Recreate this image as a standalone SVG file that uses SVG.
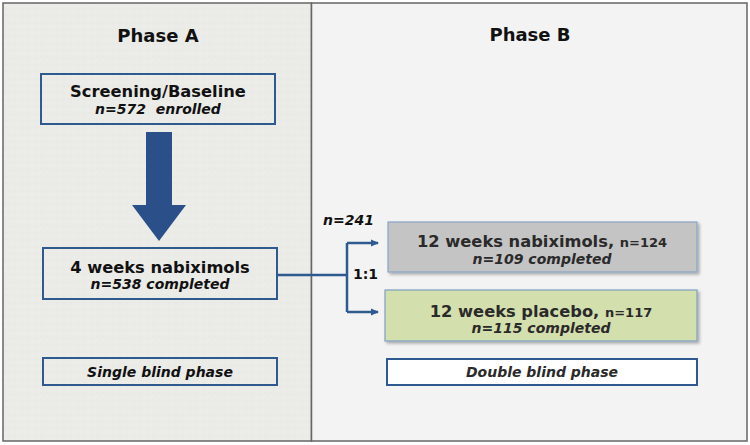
<svg xmlns="http://www.w3.org/2000/svg" width="750" height="445" viewBox="0 0 750 445">
<style>
.t{font-family:"DejaVu Sans","Liberation Sans",sans-serif;font-weight:bold;fill:#111;text-anchor:middle}
.h{font-size:18px}
.m{font-size:16.3px}
.i{font-size:14px;font-style:italic}
.s{font-size:13px}
.d{fill:#2a2a2a}
.box{fill:none;stroke:#2f5a8f;stroke-width:2}
.wbox{fill:#ffffff;stroke:#2f5a8f;stroke-width:2}
.line{fill:none;stroke:#2f5a8f;stroke-width:2.5}
</style>
<defs>
<marker id="ah" markerWidth="8" markerHeight="8" refX="7" refY="4" orient="auto" markerUnits="userSpaceOnUse">
<path d="M0,0.5 L8,4 L0,7.5 Z" fill="#2f5a8f"/>
</marker>
<filter id="sh" x="-5%" y="-10%" width="115%" height="130%">
<feDropShadow dx="2" dy="2" stdDeviation="1.5" flood-color="#000" flood-opacity="0.3"/>
</filter>
<pattern id="stip" width="7" height="7" patternUnits="userSpaceOnUse">
<rect width="7" height="7" fill="#ebebe8"/>
<circle cx="1" cy="2" r="0.5" fill="#e0e0dc"/>
<circle cx="4.5" cy="5" r="0.5" fill="#f4f4f2"/>
<circle cx="5.5" cy="1" r="0.4" fill="#dededa"/>
</pattern>
</defs>
<g id="panels">
<rect x="3" y="3" width="308.5" height="438" fill="url(#stip)" stroke="#666" stroke-width="1.5"/>
<rect x="311.5" y="3" width="435.5" height="438" fill="#f3f3f3" stroke="#666" stroke-width="1.5"/>
</g>
<g id="phaseA-title"><text class="t h" x="158" y="42">Phase A</text></g>
<g id="phaseB-title"><text class="t h" x="530" y="41">Phase B</text></g>
<g id="screening">
<rect class="box" x="41" y="74" width="234" height="50"/>
<text class="t m" x="158" y="97">Screening/Baseline</text>
<text class="t i" x="158" y="114" xml:space="preserve">n=572  enrolled</text>
</g>
<g id="big-arrow">
<path d="M146,132 H172 V205 H186 L159,241 L132,205 H146 Z" fill="#2b5089"/>
</g>
<g id="open-label">
<rect class="box" x="43" y="248" width="234" height="51"/>
<text class="t m" x="160" y="273">4 weeks nabiximols</text>
<text class="t i" x="160" y="289">n=538 completed</text>
</g>
<g id="single-blind">
<rect class="box" x="43" y="358" width="234" height="27"/>
<text class="t i" x="160" y="377">Single blind phase</text>
</g>
<g id="connectors">
<path class="line" d="M277,275 H347"/>
<path class="line" d="M347,243 V312"/>
<path class="line" d="M347,243 H378" marker-end="url(#ah)"/>
<path class="line" d="M347,312 H378" marker-end="url(#ah)"/>
</g>
<g id="labels">
<text class="t i" x="323" y="225" style="text-anchor:start">n=241</text>
<text class="t i" x="353" y="279" style="text-anchor:start;font-style:normal">1:1</text>
</g>
<g id="nabiximols">
<rect x="388" y="222" width="309" height="50" fill="#c4c4c4" stroke="#8aa6c6" stroke-width="1.2" filter="url(#sh)"/>
<text class="t m d" x="542" y="247">12 weeks nabiximols, <tspan class="s">n=124</tspan></text>
<text class="t i d" x="542" y="264">n=109 completed</text>
</g>
<g id="placebo">
<rect x="385" y="290" width="312" height="51" fill="#d4dfae" stroke="#7f9fc4" stroke-width="1.2" filter="url(#sh)"/>
<text class="t m d" x="541" y="317">12 weeks placebo, <tspan class="s">n=117</tspan></text>
<text class="t i d" x="541" y="333">n=115 completed</text>
</g>
<g id="double-blind">
<rect class="wbox" x="387" y="359" width="310" height="26"/>
<text class="t i d" x="542" y="377">Double blind phase</text>
</g>
</svg>
